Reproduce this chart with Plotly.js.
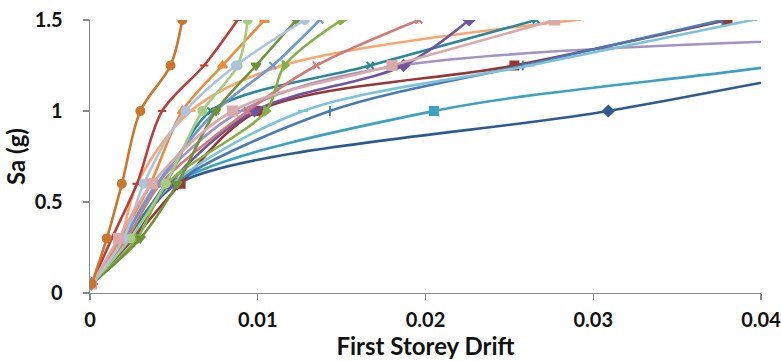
<!DOCTYPE html>
<html><head><meta charset="utf-8">
<script src="https://cdn.plot.ly/plotly-3.0.1.min.js"></script>
<style>html,body{margin:0;padding:0;background:#fff}#chart{width:781px;height:362px}</style>
</head><body><div id="chart"></div>
<script>
// Spectral acceleration levels (g)
const saLevels = [0.05, 0.3, 0.6, 1.0, 1.25, 1.5];

// First storey drift for each record at each Sa level
const darkBlueDiamond = [0.0001, 0.0025, 0.0052, 0.0309, 0.0455, 0.060];
const aquaSquare      = [0.0001, 0.0024, 0.0050, 0.0205, 0.0410, 0.058];
const lavender        = [0.0001, 0.0020, 0.0040, 0.0090, 0.0185, 0.130];
const darkRedSquare   = [0.0001, 0.0026, 0.0054, 0.0100, 0.0253, 0.0380];
const bluePlus        = [0.0001, 0.0021, 0.0050, 0.0143, 0.0258, 0.0377];
const lightAqua       = [0.0001, 0.0022, 0.0049, 0.0127, 0.0262, 0.0395];
const lightOrange     = [0.0001, 0.0018, 0.0028, 0.0060, 0.0115, 0.0290];
const tealX           = [0.0001, 0.0022, 0.0045, 0.0072, 0.0167, 0.0266];
const purpleDiamond   = [0.0001, 0.0025, 0.0047, 0.0098, 0.0187, 0.0226];
const roseX           = [0.0001, 0.0022, 0.0042, 0.0094, 0.0135, 0.0196];
const greenTriangle   = [0.0001, 0.0028, 0.0046, 0.0105, 0.0116, 0.0150];
const blueX           = [0.0001, 0.0020, 0.0040, 0.0075, 0.0109, 0.0137];
const darkGreenTri    = [0.0001, 0.0030, 0.0052, 0.0075, 0.0099, 0.0123];
const orangeTriangle  = [0.0001, 0.0018, 0.0036, 0.0055, 0.0079, 0.0104];
const lightGreenCirc  = [0.0001, 0.0024, 0.0045, 0.0067, 0.0088, 0.0094];
const redDash         = [0.0001, 0.0013, 0.0028, 0.0043, 0.0068, 0.0088];
const lightBlueCirc   = [0.0001, 0.0020, 0.0032, 0.0057, 0.0087, 0.0128];
const pinkSquare      = [0.0001, 0.0017, 0.0037, 0.0085, 0.0180, 0.0277];
const darkOrangeCirc  = [0.0001, 0.0010, 0.0019, 0.0030, 0.0048, 0.0055];

const seriesList = [
  {x: darkBlueDiamond, color: '#2F5A8E', symbol: 'diamond', size: 8},
  {x: aquaSquare,      color: '#3CA2BE', symbol: 'square', size: 8},
  {x: lavender,        color: '#A392C2', symbol: 'line-ew', size: 7},
  {x: darkRedSquare,   color: '#953735', symbol: 'square', size: 8},
  {x: bluePlus,        color: '#4A79B8', symbol: 'line-ns', size: 7},
  {x: lightAqua,       color: '#7CC3D8', symbol: 'line-ew', size: 7},
  {x: lightOrange,     color: '#F9A56C', symbol: 'line-ew', size: 7},
  {x: tealX,           color: '#2B8898', symbol: 'x-thin', size: 7},
  {x: purpleDiamond,   color: '#6E55A0', symbol: 'diamond', size: 8},
  {x: roseX,           color: '#CF7B78', symbol: 'x-thin', size: 7},
  {x: greenTriangle,   color: '#86B043', symbol: 'triangle-right', size: 8},
  {x: blueX,           color: '#7097CF', symbol: 'x-thin', size: 7},
  {x: darkGreenTri,    color: '#6F9138', symbol: 'triangle-down', size: 8},
  {x: orangeTriangle,  color: '#EE8A3A', symbol: 'triangle-up', size: 8},
  {x: lightGreenCirc,  color: '#A9CA83', symbol: 'circle', size: 8},
  {x: redDash,         color: '#B5413F', symbol: 'line-ew', size: 6},
  {x: lightBlueCirc,   color: '#ADC3E2', symbol: 'circle', size: 8},
  {x: pinkSquare,      color: '#D9AAA9', symbol: 'square', size: 9},
  {x: darkOrangeCirc,  color: '#C9762E', symbol: 'circle', size: 8}
];

const traces = seriesList.map(s => ({
  type: 'scatter', mode: 'lines+markers',
  x: s.x, y: saLevels,
  line: {color: s.color, width: 2.6, shape: 'spline', smoothing: 0.9},
  marker: {symbol: s.symbol, size: s.size, color: s.color, line: {color: s.color, width: 2}},
  cliponaxis: true, showlegend: false, hoverinfo: 'x+y'
}));

const fam = 'Lato, "Open Sans", sans-serif';

Plotly.newPlot('chart', traces, {
  width: 781, height: 362,
  margin: {l: 90, r: 20, t: 20, b: 69},
  paper_bgcolor: '#fff', plot_bgcolor: '#fff',
  showlegend: false,
  xaxis: {
    range: [0, 0.04], tickvals: [0, 0.01, 0.02, 0.03, 0.04], ticktext: ['0', '0.01', '0.02', '0.03', '0.04'],
    showgrid: false, zeroline: false, showline: true, linecolor: '#888', linewidth: 1.3,
    ticks: 'outside', ticklen: 6, tickcolor: '#888', tickwidth: 1.3, ticklabelstandoff: 3,
    ticklabeloverflow: 'allow',
    tickfont: {family: fam, size: 20, color: '#111', weight: 'bold'},
    title: {text: '<b>First Storey Drift</b>', font: {family: fam, size: 24, color: '#111'}, standoff: 4}
  },
  yaxis: {
    range: [0, 1.5], tickvals: [0, 0.5, 1, 1.5], ticktext: ['0', '0.5', '1', '1.5'],
    showgrid: false, zeroline: false, showline: true, linecolor: '#888', linewidth: 1.3,
    ticks: 'outside', ticklen: 6, tickcolor: '#888', tickwidth: 1.3, ticklabelstandoff: 16,
    ticklabeloverflow: 'allow',
    tickfont: {family: fam, size: 20, color: '#111', weight: 'bold'},
    title: {text: '<b>Sa (g)</b>', font: {family: fam, size: 24, color: '#111'}, standoff: 2}
  }
}, {displayModeBar: false, staticPlot: true});
</script></body></html>
